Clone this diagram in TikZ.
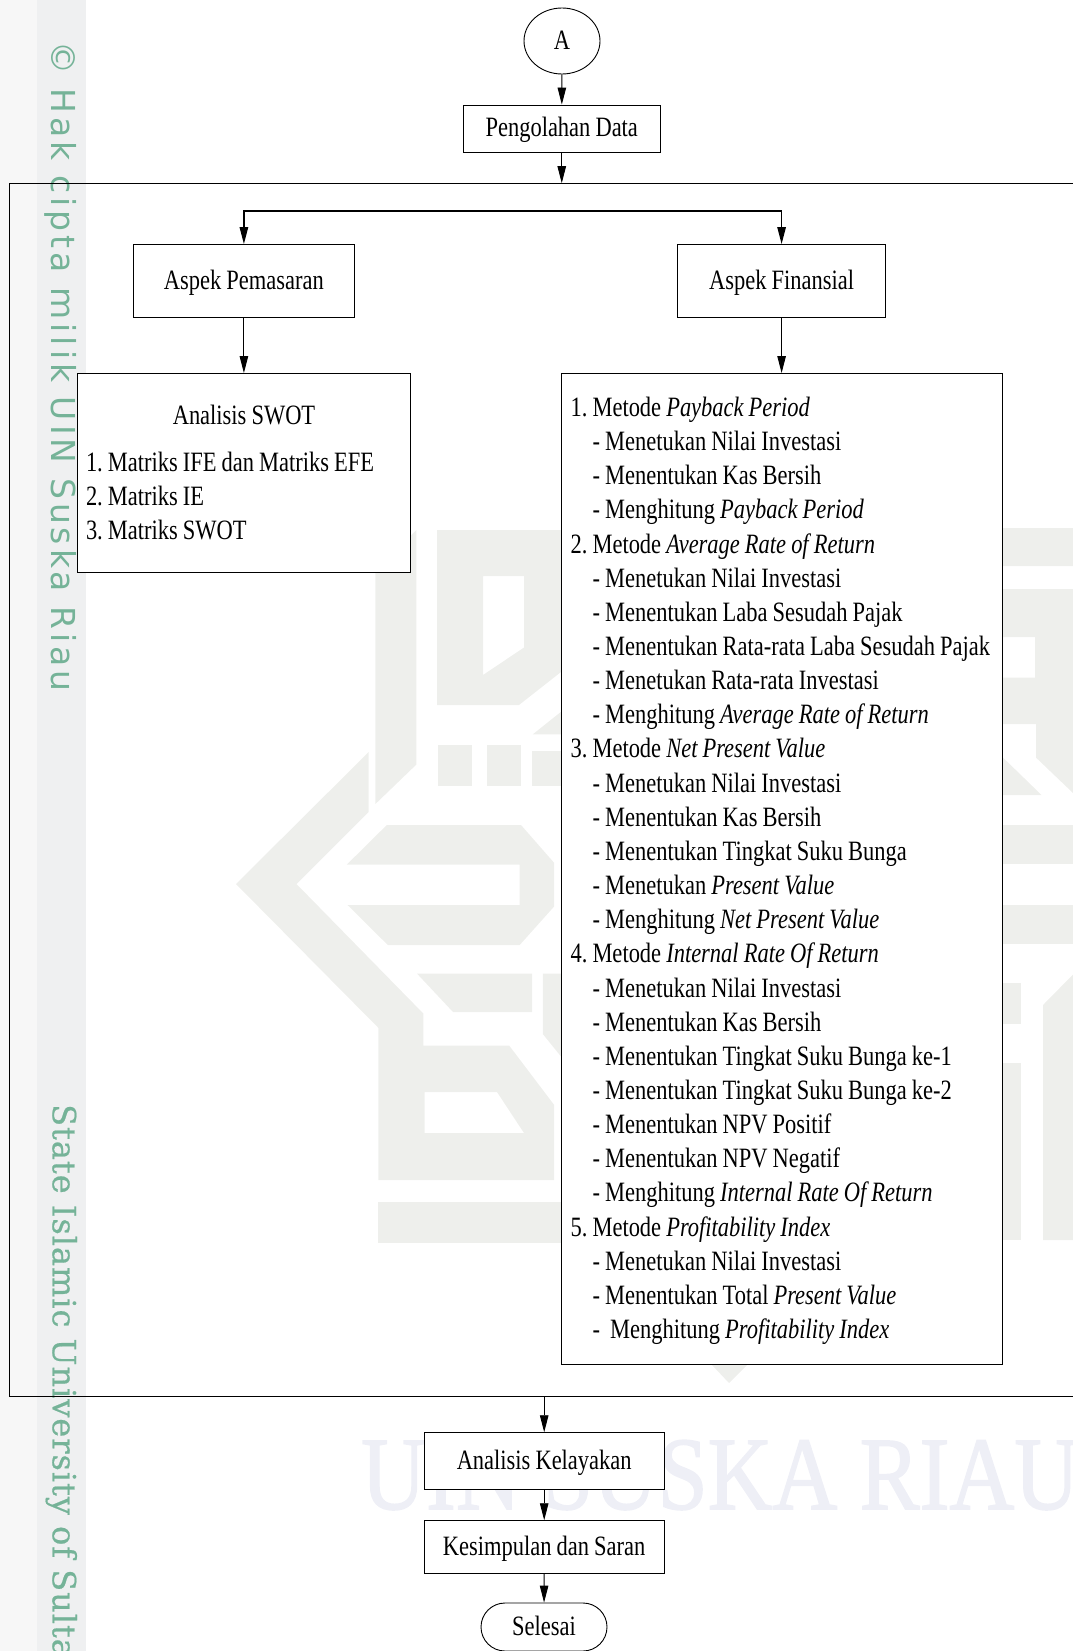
\documentclass[tikz,border=0pt]{standalone}
\usepackage{fontspec}
\usetikzlibrary{arrows.meta,shapes.geometric,calc}
\setmainfont[FakeStretch=0.803,WordSpace=0.9]{Liberation Serif}
\newfontfamily\wmsans[LetterSpace=12.2]{DejaVu Sans}
\newfontfamily\wmserif[LetterSpace=3,FakeBold=0.6]{DejaVu Serif}
\newfontfamily\wmbig[FakeBold=1.5]{Liberation Serif}
\frenchspacing
\hyphenpenalty=10000
\newcommand{\subln}{\hspace*{22pt}- }
\definecolor{emblem}{HTML}{EEEFEC}
\definecolor{side}{HTML}{EFF0F1}
\definecolor{sideout}{HTML}{F7F7F7}
\definecolor{wmgreen}{HTML}{75B398}
\definecolor{wmblue}{HTML}{EEEFF6}
\tikzset{
  wm/.style={fill=emblem,draw=none},
  boxnode/.style={draw=black,line width=0.9pt,fill=white,inner sep=0pt,text height=23pt,text depth=6pt,font=\fontsize{28}{34.15}\selectfont},
  listbox/.style={draw=black,line width=0.9pt,fill=white,inner ysep=0pt,align=flush left,font=\fontsize{28}{34.15}\selectfont},
  conn/.style={draw=black,line width=0.9pt,-{Triangle[length=17pt,width=8.5pt]}},
  bothconn/.style={draw=black,line width=1.3pt,{Triangle[length=17pt,width=8.5pt]}-{Triangle[length=17pt,width=8.5pt]}},
}
\begin{document}
\begin{tikzpicture}[x=1pt,y=-1pt]
\useasboundingbox (0,0) rectangle (1073,1651);
% margin strip
\fill[sideout] (0,0) rectangle (37,1651);
\fill[side] (37,0) rectangle (86,1651);
% emblem watermark
\fill[wm,even odd rule] (375.4,572) -- (416.3,530) -- (416.3,764.6) -- (375.4,804) -- cycle;
\fill[wm,even odd rule] (437,530) -- (1073,530) -- (1073,566) -- (561,566) -- (561,672) -- (519,705) -- (437,705) -- cycle
   (483,576) -- (524,576) -- (524,647.5) -- (483,675) -- cycle;
\fill[wm] (438,745) rectangle (472.3,786.4);
\fill[wm] (486.8,745) rectangle (521,786.4);
\fill[wm] (532,751.4) rectangle (563,786.4);
\fill[wm] (532.8,734.3) -- (562,711) -- (562,734.3) -- cycle;
\fill[wm,even odd rule] (368.7,752) -- (368.7,812) -- (296.5,884) -- (423.4,1013.6) -- (423.4,1045.7) -- (509.3,1045.7) -- (554.2,1105) -- (554.2,1180) -- (378.4,1180) -- (378.4,1027.9) -- (236,884) -- cycle
   (424.7,1092) -- (497,1092) -- (524,1133) -- (424.7,1133) -- cycle;
\fill[wm] (346.8,864.6) -- (386.8,825) -- (521,825) -- (554.2,862.9) -- (554.2,906.4) -- (519.7,945) -- (387.8,945) -- (347.5,905) -- (519.7,905) -- (519.7,864.6) -- cycle;
\fill[wm] (417,973.6) -- (532,973.6) -- (532,1012) -- (453,1012) -- cycle;
\fill[wm] (542.8,973.6) -- (563,973.6) -- (563,1059) -- (542.8,1034) -- cycle;
\fill[wm] (378.4,1202) rectangle (563,1243);
\fill[wm] (712,1365) -- (747,1365) -- (729,1383) -- cycle;
% emblem, right of the list box
\fill[wm] (1003,528) rectangle (1073,566);
\fill[wm,even odd rule] (1003,589) -- (1073,589) -- (1073,793) -- (1036,757.6) -- (1036,724) -- (1003,724) -- cycle
   (1003,637) rectangle (1035,677.5);
\fill[wm] (1003,757.6) -- (1041.5,795) -- (1003,795) -- cycle;
\fill[wm] (1003,824.5) rectangle (1073,863.8);
\fill[wm] (1003,904.6) rectangle (1073,943.9);
\fill[wm] (1003,983) rectangle (1020.6,1024);
\fill[wm] (1003,1062.7) rectangle (1020.6,1240);
\fill[wm] (1043,1005) -- (1073,974.5) -- (1073,1240) -- (1043,1240) -- cycle;
% text watermarks
\node[anchor=base west,inner sep=0pt,text=wmblue,xscale=0.863,font=\wmbig\fontsize{104}{104}\selectfont] (wmriau) at (361,1509) {UIN SUSKA RIAU};
\node[anchor=base west,inner sep=0pt,rotate=-90,text=wmgreen,font=\wmsans\fontsize{33}{33}\selectfont] (wmhak) at (51.7,41) {© Hak cipta milik UIN Suska Riau};
\node[anchor=base west,inner sep=0pt,rotate=-90,text=wmgreen,font=\wmserif\fontsize{32}{32}\selectfont] (wmstate) at (52.7,1104) {State Islamic University of Sulta};
% large frame
\node[draw=black,line width=1pt,minimum width=1081pt,minimum height=1212.3pt,inner sep=0pt] (frame) at (549.5,789.85) {};
% nodes
\node[ellipse,draw=black,line width=0.9pt,fill=white,minimum width=76pt,minimum height=66pt,inner sep=0pt,text height=23pt,text depth=6pt,font=\fontsize{28}{34.15}\selectfont] (a) at (562,41) {A};
\node[boxnode,minimum width=197.5pt,minimum height=47pt] (olah) at (561.75,128.5) {Pengolahan Data};
\node[boxnode,minimum width=221pt,minimum height=72.5pt] (pem) at (243.9,280.75) {Aspek Pemasaran};
\node[boxnode,minimum width=208pt,minimum height=72.5pt] (fin) at (781.6,280.75) {Aspek Finansial};
\node[listbox,inner xsep=8.7pt,text width=316pt,minimum height=199pt] (swot) at (244,473) {\rule{0pt}{23pt}\makebox[\linewidth]{Analisis SWOT}\\[13pt]
1. Matriks IFE dan Matriks EFE\\
2. Matriks IE\\
3. Matriks SWOT\rule[-5pt]{0pt}{5pt}};
\node[listbox,inner xsep=9.6pt,text width=421.8pt,minimum height=990.5pt] (metode) at (781.5,868.75) {\rule{0pt}{23.5pt}1. Metode \textit{Payback Period}\\
\subln Menetukan Nilai Investasi\\
\subln Menentukan Kas Bersih\\
\subln Menghitung \textit{Payback Period}\\
2. Metode \textit{Average Rate of Return}\\
\subln Menetukan Nilai Investasi\\
\subln Menentukan Laba Sesudah Pajak\\
\subln Menentukan Rata-rata Laba Sesudah Pajak\\
\subln Menetukan Rata-rata Investasi\\
\subln Menghitung \textit{Average Rate of Return}\\
3. Metode \textit{Net Present Value}\\
\subln Menetukan Nilai Investasi\\
\subln Menentukan Kas Bersih\\
\subln Menentukan Tingkat Suku Bunga\\
\subln Menetukan \textit{Present Value}\\
\subln Menghitung \textit{Net Present Value}\\
4. Metode \textit{Internal Rate Of Return}\\
\subln Menetukan Nilai Investasi\\
\subln Menentukan Kas Bersih\\
\subln Menentukan Tingkat Suku Bunga ke-1\\
\subln Menentukan Tingkat Suku Bunga ke-2\\
\subln Menentukan NPV Positif\\
\subln Menentukan NPV Negatif\\
\subln Menghitung \textit{Internal Rate Of Return}\\
5. Metode \textit{Profitability Index}\\
\subln Menetukan Nilai Investasi\\
\subln Menentukan Total \textit{Present Value}\\
\subln\ Menghitung \textit{Profitability Index}};
\node[boxnode,minimum width=239.6pt,minimum height=56.3pt] (kel) at (544.2,1460.85) {Analisis Kelayakan};
\node[boxnode,minimum width=239.6pt,minimum height=52.3pt] (simp) at (544.2,1546.85) {Kesimpulan dan Saran};
\node[boxnode,rounded corners=24pt,minimum width=126pt,minimum height=48pt] (selesai) at (544,1627) {Selesai};
% connectors
\coordinate (forkR) at (fin.north |- 0,211);
\draw[conn] (a) -- (olah);
\draw[conn] (olah) -- (olah |- frame.north);
\draw[bothconn] (pem.north) |- (forkR) -- (fin.north);
\draw[conn] (pem) -- (pem |- swot.north);
\draw[conn] (fin) -- (fin |- metode.north);
\draw[conn] (kel |- frame.south) -- (kel);
\draw[conn] (kel) -- (simp);
\draw[conn] (simp) -- (selesai);
\end{tikzpicture}
\end{document}
